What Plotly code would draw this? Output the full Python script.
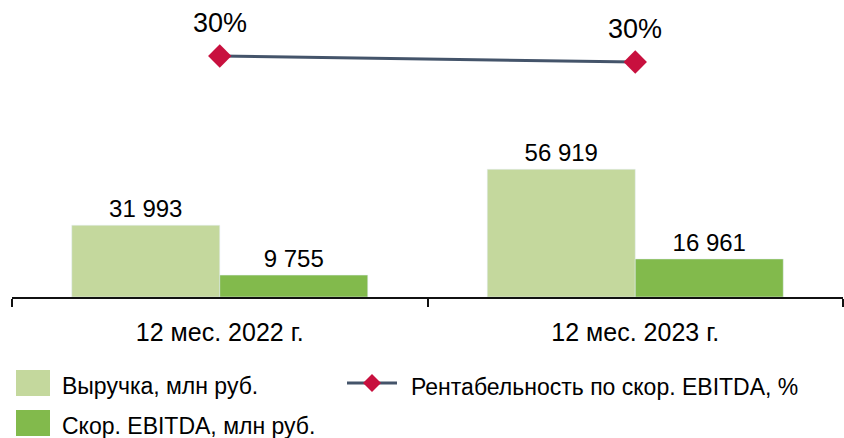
import plotly.graph_objects as go

# Data
periods = ["12 мес. 2022 г.", "12 мес. 2023 г."]
revenue = [31993, 56919]          # Выручка, млн руб.
ebitda = [9755, 16961]            # Скор. EBITDA, млн руб.
margin_pct = [30.49, 29.80]       # Рентабельность по скор. EBITDA, %

names = ["Выручка, млн руб.", "Скор. EBITDA, млн руб.", "Рентабельность по скор. EBITDA, %"]

# Styling
C_LIGHT = "#C4D89D"
C_DARK = "#82BA4C"
C_LINE = "#44546A"
C_MARK = "#C8103E"
FONT = "Arial, Liberation Sans, sans-serif"

W, H = 844, 438
L, R, T, B = 12, 1, 0, 141
PW, PH = W - L - R, H - T - B


def xp(px):
    return (px - L) / PW


def yp(py):
    return (T + PH - py) / PH


def fmt(v):
    return f"{v:,}".replace(",", " ")


fig = go.Figure()
fig.add_trace(go.Bar(
    x=periods, y=revenue, name=names[0], marker_color=C_LIGHT,
    text=[fmt(v) for v in revenue], textposition="outside",
    textfont=dict(size=24, color="black", family=FONT), cliponaxis=False,
    showlegend=False,
))
fig.add_trace(go.Bar(
    x=periods, y=ebitda, name=names[1], marker_color=C_DARK,
    text=[fmt(v) for v in ebitda], textposition="outside",
    textfont=dict(size=24, color="black", family=FONT), cliponaxis=False,
    showlegend=False,
))
fig.add_trace(go.Scatter(
    x=periods, y=margin_pct, name=names[2], yaxis="y2", mode="lines+markers",
    line=dict(color=C_LINE, width=3),
    marker=dict(symbol="diamond", size=18, color=C_MARK),
    cliponaxis=False, showlegend=False,
))

# Percentage labels above the line points
annotations = []
for p, v in zip(periods, margin_pct):
    annotations.append(dict(
        x=p, y=v, xref="x", yref="y2", yshift=33, showarrow=False,
        text=f"{v:.0f}%", font=dict(size=27, color="black", family=FONT),
    ))

# Legend drawn with shapes and text
shapes = []
legend_rows = [
    (C_LIGHT, names[0], 16, 370, 396),
    (C_DARK, names[1], 16, 410, 436),
]
for color, label, x0, y0, y1 in legend_rows:
    shapes.append(dict(type="rect", xref="paper", yref="paper",
                       x0=xp(x0), x1=xp(50), y0=yp(y1), y1=yp(y0),
                       fillcolor=color, line=dict(width=0)))
    annotations.append(dict(xref="paper", yref="paper", x=xp(60), y=yp((y0 + y1) / 2 + 3),
                            xanchor="left", yanchor="middle", showarrow=False, text=label,
                            font=dict(size=23, color="black", family=FONT)))

ly = 383
shapes.append(dict(type="line", xref="paper", yref="paper",
                   x0=xp(347), x1=xp(397), y0=yp(ly), y1=yp(ly),
                   line=dict(color=C_LINE, width=3)))
cx, d = 372, 9
shapes.append(dict(type="path", xref="paper", yref="paper",
                   path=(f"M {xp(cx - d)},{yp(ly)} L {xp(cx)},{yp(ly - d)} "
                         f"L {xp(cx + d)},{yp(ly)} L {xp(cx)},{yp(ly + d)} Z"),
                   fillcolor=C_MARK, line=dict(width=0)))
annotations.append(dict(xref="paper", yref="paper", x=xp(409), y=yp(ly + 4),
                        xanchor="left", yanchor="middle", showarrow=False, text=names[2],
                        font=dict(size=23, color="black", family=FONT)))

fig.update_layout(
    width=W, height=H,
    margin=dict(l=L, r=R, t=T, b=B),
    paper_bgcolor="white", plot_bgcolor="white",
    barmode="group", bargap=0.2876, bargroupgap=0,
    font=dict(family=FONT, color="black"),
    xaxis=dict(
        type="category", tickson="boundaries", ticks="outside", ticklen=8,
        tickwidth=2, tickcolor="#111", showline=True, linecolor="#111", linewidth=2,
        showgrid=False, tickfont=dict(size=25, color="black"), ticklabelstandoff=12,
    ),
    yaxis=dict(visible=False, range=[0, 132350], fixedrange=True),
    yaxis2=dict(visible=False, overlaying="y", range=[2.79, 36.93]),
    shapes=shapes,
    annotations=annotations,
)

fig.write_html("out.html")
